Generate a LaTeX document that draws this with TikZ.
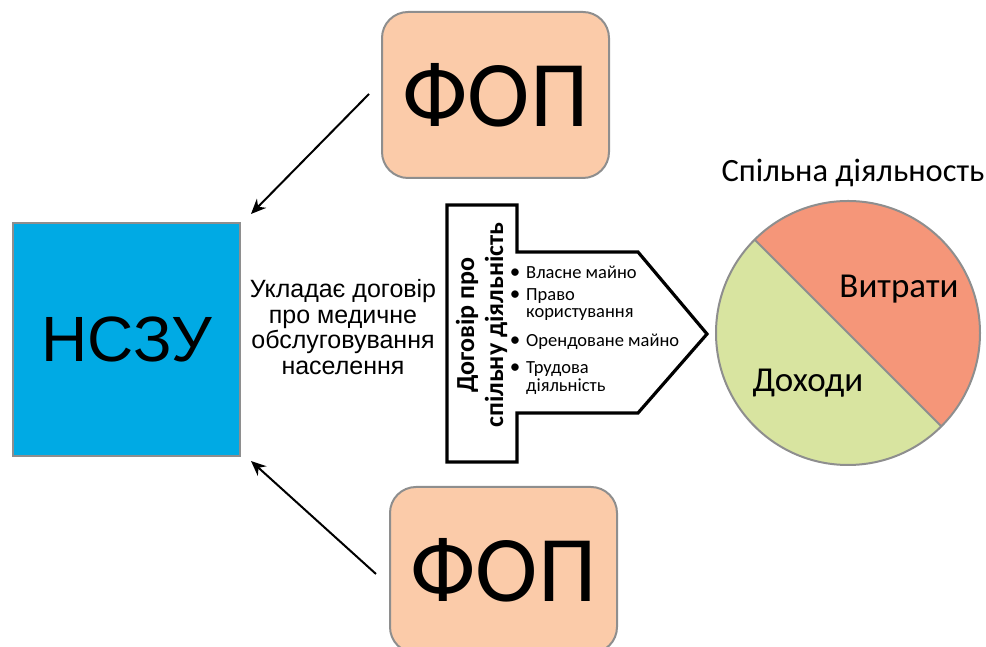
\documentclass[tikz,border=0pt]{standalone}
\usepackage{fontspec}
\setmainfont{Carlito}
\newfontfamily\arialf{Liberation Sans}
\usetikzlibrary{arrows.meta,calc}
\definecolor{nszublue}{RGB}{0,170,228}
\definecolor{fopfill}{RGB}{251,203,169}
\definecolor{boxgray}{RGB}{142,142,142}
\definecolor{piered}{RGB}{245,150,121}
\definecolor{piegreen}{RGB}{216,228,160}
\tikzset{
  fopbox/.style={draw=boxgray, line width=2pt, fill=fopfill, rounded corners=26pt,
    minimum width=227pt, minimum height=166pt, font=\fontsize{94}{96}\selectfont, inner sep=0pt},
  nszubox/.style={draw=boxgray, line width=2pt, fill=nszublue,
    minimum width=227pt, minimum height=233pt, font=\arialf\fontsize{64}{68}\selectfont, inner sep=0pt},
  link/.style={line width=2pt, -{Stealth[length=15pt,width=13pt]}},
  bul/.style={anchor=base, inner sep=0pt, font=\fontsize{21}{21}\selectfont},
  bultext/.style={anchor=base west, inner sep=0pt, font=\fontsize{18.5}{18.5}\selectfont},
  pielabel/.style={inner sep=0pt, font=\fontsize{35}{37}\selectfont},
}
\begin{document}
\begin{tikzpicture}[x=1pt,y=1pt]
\useasboundingbox (0,0) rectangle (986,647);
\clip (0,0) rectangle (986,647);
% boxes
\node[nszubox] (nszu) at (126.5,307.5) {НСЗУ};
\node[fopbox] (fop1) at (495.5,552) {ФОП};
\node[fopbox] (fop2) at (503.5,77) {ФОП};
% arrows
\coordinate (a1s) at (369,553);
\coordinate (a1e) at (251,433);
\coordinate (a2s) at (376,73);
\coordinate (a2e) at (251,186);
\draw[link] (a1s) -- (a1e);
\draw[link] (a2s) -- (a2e);
% caption text
\node[align=center, inner sep=0pt, font=\arialf\fontsize{25}{25.7}\selectfont] (cap) at (343,320)
  {Укладає договір\\про медичне\\обслуговування\\населення};
% contract arrow shape
\draw[line width=3.2pt, fill=white, line join=miter]
  (447,442) -- (517,442) -- (517,395) -- (638,395) -- (707,313) -- (638,234)
  -- (517,234) -- (517,185) -- (447,185) -- cycle;
\node[rotate=90, align=center, inner sep=0pt, font=\bfseries\fontsize{26}{29}\selectfont] (dog) at (481.5,322)
  {Договір про\\спільну діяльність};
% bullets
\node[bul] (p1) at (515,368) {•};
\node[bultext] (t1) at (526,368) {Власне майно};
\node[bul] (p2) at (515,346) {•};
\node[bultext] (t2) at (526,346) {Право};
\node[bultext] (t2b) at (526,329) {користування};
\node[bul] (p3) at (515,300) {•};
\node[bultext] (t3) at (526,300) {Орендоване майно};
\node[bul] (p4) at (515,273) {•};
\node[bultext] (t4) at (526,273) {Трудова};
\node[bultext] (t4b) at (526,255) {діяльність};
% pie
\coordinate (pc) at (848,314);
\fill[piered] (pc) -- ++(135:132) arc[start angle=135, end angle=-45, radius=132] -- cycle;
\fill[piegreen] (pc) -- ++(-45:132) arc[start angle=-45, end angle=-225, radius=132] -- cycle;
\draw[boxgray, line width=2pt] ($(pc)+(135:132)$) -- ($(pc)+(-45:132)$);
\draw[boxgray, line width=2pt] (pc) circle[radius=132];
\node[pielabel] (vyt) at (899,358) {Витрати};
\node[pielabel] (doh) at (808,264) {Доходи};
\node[inner sep=0pt, font=\fontsize{32.5}{34}\selectfont] (title) at (853,474) {Спільна діяльность};
\end{tikzpicture}
\end{document}
